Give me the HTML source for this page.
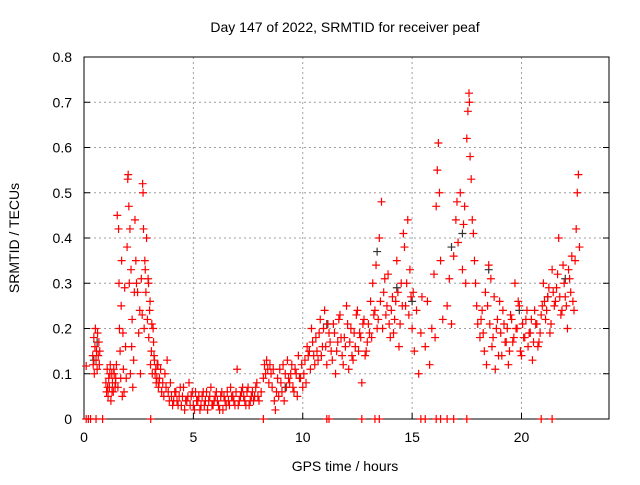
<!DOCTYPE html>
<html><head><meta charset="utf-8"><style>
body{margin:0;background:#fff}
svg text{font-family:"Liberation Sans",sans-serif;font-size:14px;fill:#000}
</style></head><body>
<svg id="chart" width="640" height="480">
<text x="345" y="32" text-anchor="middle">Day 147 of 2022, SRMTID for receiver peaf</text>
<text x="345" y="471" text-anchor="middle">GPS time / hours</text>
<text transform="translate(19,238) rotate(-90)" text-anchor="middle">SRMTID / TECUs</text>
<g id="grid"></g><g id="axes"></g><g id="black"></g><g id="red"></g>
</svg>
<script>
const xTicks=[0,5,10,15,20];
const yTicks=[0,0.1,0.2,0.3,0.4,0.5,0.6,0.7,0.8];
const yTickLabels=["0","0.1","0.2","0.3","0.4","0.5","0.6","0.7","0.8"];
const redTimes=[0.1,
0.40,0.42,0.45,0.47,0.50,0.52,0.55,0.57,0.60,0.62,0.65,0.68,0.70,0.72,
1.00,1.03,1.06,1.10,1.13,1.16,1.20,1.23,1.27,1.30,1.34,1.38,1.42,1.45,
1.48,1.52,1.55,1.58,1.60,1.62,1.65,1.68,1.70,1.72,1.75,1.78,1.80,1.83,1.86,1.90,1.93,
1.97,2.00,2.02,2.05,2.07,2.10,2.12,2.15,2.18,2.20,2.23,2.27,
2.30,2.33,2.37,2.40,2.45,2.50,2.55,2.58,2.62,2.66,
2.68,2.70,2.72,2.75,2.78,2.80,2.83,2.86,2.90,2.93,2.96,3.00,3.04,3.08,3.12,3.16,
3.20,3.25,3.30,3.35,3.40,3.45,3.50,3.55,3.60,3.65,3.70,3.75,3.80,3.85,3.90,3.95,
4.0,4.1,4.2,4.3,4.4,4.5,4.6,4.7,4.8,4.9,5.0,5.1,5.2,5.3,5.4,5.5,5.6,5.7,5.8,5.9,6.0,6.1,6.2,6.3,6.4,6.5,6.6,6.7,6.8,6.9,7.0,7.1,7.2,7.3,7.4,7.5,7.6,7.7,7.8,7.9,8.0,8.1,
8.20,8.25,8.30,8.35,8.40,8.45,8.50,8.55,8.60,8.65,
8.70,8.75,8.80,8.85,8.90,8.95,9.00,9.05,9.10,9.15,9.20,9.25,9.30,9.35,
9.4,9.5,9.6,9.7,9.8,9.9,10.0,10.1,10.2,10.3,10.4,10.5,
10.6,10.7,10.8,10.9,11.0,11.1,11.2,11.3,11.4,11.5,11.6,11.7,11.8,11.9,12.0,12.1,12.2,12.3,12.4,12.5,12.6,12.7,12.8,12.9,
13.0,13.1,13.15,13.2,13.3,13.35,13.4,13.5,13.6,13.7,13.8,13.9,
14.0,14.1,14.2,14.3,14.4,14.5,14.6,14.65,14.7,14.8,14.9,15.0,
15.05,15.1,15.2,15.3,15.4,15.45,
15.6,15.7,15.8,15.9,16.0,16.05,16.1,16.15,16.2,16.25,16.3,16.4,
16.6,16.7,16.8,16.9,17.0,17.05,17.1,17.2,17.3,17.35,17.4,17.45,
17.5,17.55,17.6,17.62,17.65,17.7,17.75,17.8,17.85,17.9,17.95,18.0,
18.1,18.2,18.3,18.35,18.4,18.5,18.6,18.7,18.8,18.9,19.0,19.1,19.2,19.3,19.4,
19.5,19.6,19.7,19.8,19.9,20.0,20.1,20.2,20.3,20.4,20.5,20.6,20.7,20.8,20.9,
21.0,21.1,21.2,21.3,21.4,21.5,21.6,21.7,21.8,21.9,22.0,22.1,22.2,22.3,22.4,22.5,22.55,22.6,22.65,
0.1,0.2,0.3,0.55,0.85,3.05,8.2,11.1,11.2,12.7,13.3,13.5,15.4,15.6,16.1,16.3,16.6,16.9,17.5,20.9,21.4,
4.05,4.15,4.25,4.35,4.45,4.55,4.65,4.75,4.85,4.95,5.05,5.15,5.25,5.35,5.45,5.55,5.65,5.75,5.85,5.95,6.05,6.15,6.25,6.35,6.45,6.55,6.65,6.75,6.85,6.95,7.05,7.15,7.25,7.35,7.45,7.55,7.65,7.75,7.85,7.95,
9.45,9.55,9.65,9.75,9.85,9.95,10.05,10.15,10.25,10.35,10.45,10.55,10.65,10.75,10.85,10.95,11.05,11.15,11.25,11.35,11.45,11.55,11.65,11.75,11.85,11.95,12.05,12.15,12.25,12.35,12.45,12.55,12.65,12.75,12.85,12.95,
13.05,13.25,13.45,13.55,13.65,13.75,13.85,13.95,14.05,14.15,14.25,14.35,14.45,14.55,14.75,14.85,14.95,
18.15,18.25,18.45,18.55,18.65,18.75,18.85,18.95,19.05,19.15,19.25,19.35,19.45,19.55,19.65,19.75,19.85,19.95,20.05,20.15,20.25,20.35,20.45,20.55,20.65,20.75,20.85,20.95,
21.05,21.15,21.25,21.35,21.45,21.55,21.65,21.75,21.85,21.95,22.05,22.15,22.25,22.35,22.45,
1.08,1.18,1.28,1.36,1.44,2.95,3.02,3.1,3.18,3.22,3.28,3.33,3.38,3.43];
const redValues=[0.117,
.14,.12,.18,.10,.16,.20,.13,.15,.11,.19,.14,.17,.12,.15,
.08,.06,.11,.05,.09,.07,.12,.04,.10,.08,.06,.10,.07,.09,
.12,.45,.07,.42,.30,.20,.15,.09,.25,.35,.05,.19,.11,.06,.29,.16,.09,
.38,.53,.54,.47,.30,.42,.10,.33,.16,.22,.07,.13,
.28,.44,.35,.30,.28,.19,.24,.10,.31,.23,
.52,.50,.42,.20,.35,.33,.28,.40,.22,.31,.18,.24,.12,.15,.10,.20,
.14,.10,.08,.12,.07,.09,.11,.06,.08,.05,.10,.07,.13,.06,.04,.08,
.05,.04,.06,.03,.07,.05,.02,.04,.08,.05,.03,.06,.04,.02,.05,.03,.06,.04,.07,.03,.05,.04,.02,.06,.05,.03,.04,.07,.05,.03,.11,.04,.06,.05,.03,.07,.04,.06,.05,.08,.04,.06,
.09,.12,.10,.13,.11,.08,.12,.10,.07,.11,
.04,.02,.06,.09,.05,.11,.08,.06,.12,.04,.10,.07,.13,.09,
.08,.12,.06,.10,.14,.09,.07,.13,.16,.15,.20,.14,
.18,.13,.22,.16,.24,.12,.19,.15,.21,.10,.17,.23,.14,.18,.25,.11,.20,.13,.16,.24,.19,.08,.22,.15,
.21,.26,.18,.30,.24,.34,.20,.40,.48,.28,.23,.32,
.18,.27,.22,.35,.16,.30,.41,.38,.25,.44,.33,.20,
.28,.15,.24,.10,.19,.27,
.16,.26,.12,.20,.32,.18,.47,.55,.61,.50,.35,.22,
.25,.31,.21,.36,.44,.48,.39,.50,.33,.43,.47,.30,
.62,.68,.72,.70,.58,.53,.44,.41,.35,.30,.25,.21,
.18,.24,.15,.28,.12,.34,.31,.18,.11,.22,.26,.14,.21,.17,.12,
.23,.17,.30,.20,.25,.14,.18,.22,.16,.19,.13,.24,.21,.17,.23,
.30,.22,.27,.19,.33,.25,.29,.40,.23,.34,.27,.20,.31,.36,.24,.42,.50,.54,.38,
0,0,0,0,0,0,0,0,0,0,0,0,0,0,0,0,0,0,0,0,0,
.03,.06,.04,.05,.03,.07,.04,.05,.03,.06,.02,.04,.05,.03,.06,.04,.02,.05,.03,.04,.06,.03,.05,.02,.04,.06,.03,.05,.04,.06,.03,.05,.07,.04,.06,.03,.05,.04,.07,.05,
.10,.07,.11,.05,.09,.12,.10,.08,.14,.11,.17,.12,.15,.19,.14,.20,.16,.21,.17,.13,.19,.15,.22,.18,.12,.16,.21,.17,.14,.19,.23,.15,.18,.21,.14,.17,
.19,.23,.22,.26,.20,.31,.25,.21,.24,.19,.26,.28,.21,.25,.30,.23,.27,
.22,.19,.25,.21,.16,.27,.20,.14,.19,.24,.17,.20,.15,.22,.18,.20,.26,.15,.21,.18,.24,.19,.22,.17,.21,.16,.19,.25,
.26,.24,.29,.21,.28,.26,.32,.27,.24,.30,.25,.33,.28,.26,.35,
.07,.10,.06,.11,.08,.30,.26,.21,.17,.13,.11,.09,.12,.08];
const blackTimes=[0.45,0.6,9.2,10.3,11.1,13.4,14.3,15.0,16.8,17.3,18.5,19.9,21.2,22.0];
const blackValues=[.13,.17,.07,.15,.21,.37,.29,.26,.38,.41,.33,.24,.27,.31];
const L=84,R=609,T=57,B=419;
const xs=t=>L+(R-L)*t/24, ys=v=>B-(B-T)*v/0.8;
const NS='http://www.w3.org/2000/svg';
function mk(tag,attrs,parent){const e=document.createElementNS(NS,tag);for(const k in attrs)e.setAttribute(k,attrs[k]);document.getElementById(parent).appendChild(e);return e;}
xTicks.forEach((t,i)=>{
 if(i>0){const g=mk('line',{x1:xs(t),x2:xs(t),y1:T,y2:B,stroke:'#a0a0a0','stroke-dasharray':'2,3'},'grid');
 
 }
 const tk=mk('line',{x1:xs(t),x2:xs(t),y1:B,y2:B-6,stroke:'#000'},'axes');
 
 
 const tx=mk('text',{x:xs(t),y:B+23,'text-anchor':'middle'},'axes');tx.textContent=t;
 
 
});
yTicks.forEach((v,i)=>{
 if(i>0&&i<yTicks.length-1){const g=mk('line',{x1:L,x2:R,y1:ys(v),y2:ys(v),stroke:'#a0a0a0','stroke-dasharray':'2,3'},'grid');
 
 }
 const tk=mk('line',{x1:L,x2:L+6,y1:ys(v),y2:ys(v),stroke:'#000'},'axes');
 
 
 const tk2=mk('line',{x1:R,x2:R-6,y1:ys(v),y2:ys(v),stroke:'#000'},'axes');
 
 
 const tx=mk('text',{x:L-12,y:ys(v)+5,'text-anchor':'end'},'axes');tx.textContent=yTickLabels[i];
 
 
});
const fr=mk('rect',{x:L,y:T,width:R-L,height:B-T,fill:'none',stroke:'#000'},'axes');


function plus(t,v,col,grp,name){const x=xs(t),y=ys(v);
 const p=mk('path',{d:`M${x-4} ${y}H${x+4}M${x} ${y-4}V${y+4}`,stroke:col,'stroke-width':1.2,fill:'none'},grp);
 
 }
blackTimes.forEach((t,i)=>plus(t,blackValues[i],'#333','black','black-point'));
redTimes.forEach((t,i)=>plus(t,redValues[i],'#ff0000','red','red-point'));
</script>
</body></html>
